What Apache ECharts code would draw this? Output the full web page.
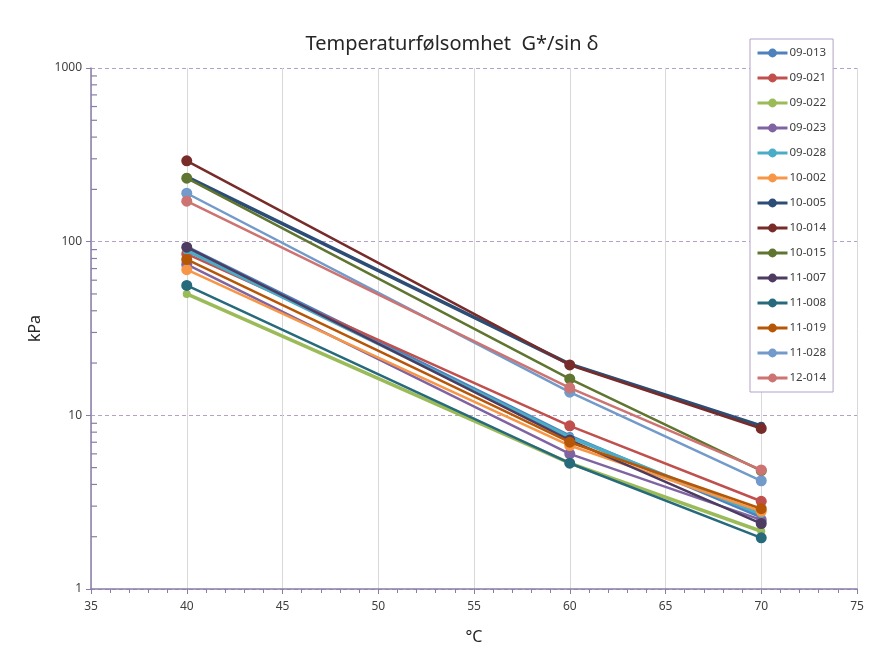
<!DOCTYPE html>
<html>
<head>
<meta charset="utf-8">
<script src="https://cdn.jsdelivr.net/npm/echarts@6/dist/echarts.min.js"></script>
<style>
  html, body { margin: 0; padding: 0; background: #ffffff; }
  #chart { width: 876px; height: 669px; }
</style>
</head>
<body>
<div id="chart"></div>
<script>
// Test temperatures (°C)
const temperatures = [40, 60, 70];

// Sample names
const sampleNames = ['09-013', '09-021', '09-022', '09-023', '09-028', '10-002', '10-005',
                     '10-014', '10-015', '11-007', '11-008', '11-019', '11-028', '12-014'];

// G*/sin δ in kPa at 40, 60 and 70 °C for each sample
const v09_013 = [93, 7.6, 2.6];
const v09_021 = [85, 8.7, 3.2];
const v09_022 = [50, 5.3, 2.15];
const v09_023 = [74, 6.0, 2.5];
const v09_028 = [89, 7.5, 2.7];
const v10_002 = [69, 6.7, 2.8];
const v10_005 = [236, 19.7, 8.7];
const v10_014 = [292, 19.5, 8.4];
const v10_015 = [232, 16.2, 4.8];
const v11_007 = [93, 7.2, 2.38];
const v11_008 = [56, 5.3, 1.97];
const v11_019 = [79, 7.0, 2.9];
const v11_028 = [190, 13.6, 4.2];
const v12_014 = [171, 14.4, 4.85];

const sampleValues = [v09_013, v09_021, v09_022, v09_023, v09_028, v10_002, v10_005,
                      v10_014, v10_015, v11_007, v11_008, v11_019, v11_028, v12_014];

// Decades of the kPa axis and the x-axis range
const decades = [1, 10, 100, 1000];
const xMin = 35, xMax = 75;

const colors = ['#4F81BD', '#C0504D', '#9BBB59', '#8064A2', '#4BACC6', '#F79646', '#2C4D75',
                '#772C2A', '#5F7530', '#4D3B62', '#276A7C', '#B65708', '#729ACA', '#CD7371'];
// thicker lines with small markers for a few samples
const thick = { '09-013': true, '09-022': true, '09-028': true, '10-005': true };

const series = sampleNames.map(function (name, i) {
  const isThick = !!thick[name];
  return {
    name: name,
    type: 'line',
    data: temperatures.map(function (t, j) { return [t, sampleValues[i][j]]; }),
    symbol: 'circle',
    symbolSize: isThick ? 8 : 11,
    showSymbol: true,
    lineStyle: { width: isThick ? 3.5 : 2.5, color: colors[i] },
    itemStyle: { color: colors[i] },
    emphasis: { disabled: true },
    animation: false,
    z: 3 + i
  };
});

const axisPurple = '#8A7CA8';

// Inner minor ticks of the log axis (2..9 within each decade), drawn as thin bars
const minorTickValues = [];
for (let d = 0; d < decades.length - 1; d++) {
  for (let m = 2; m <= 9; m++) minorTickValues.push([xMin, decades[d] * m]);
}
series.push({
  name: 'minor-ticks',
  type: 'scatter',
  data: minorTickValues,
  symbol: 'rect',
  symbolSize: [6, 1.2],
  symbolOffset: [3, 0],
  itemStyle: { color: axisPurple, opacity: 1 },
  silent: true,
  clip: false,
  animation: false,
  emphasis: { disabled: true },
  z: 20
});

const labelFont = { fontFamily: 'Noto Sans', fontSize: 12, color: '#404040' };

const chart = echarts.init(document.getElementById('chart'), null, { renderer: 'canvas' });
chart.setOption({
  backgroundColor: '#ffffff',
  animation: false,
  color: colors,
  title: {
    text: 'Temperaturfølsomhet  G*/sin δ',
    left: 447,
    textAlign: 'center',
    top: 29,
    textStyle: { fontFamily: 'Noto Sans', fontSize: 20, fontWeight: 'normal', color: '#262626' }
  },
  legend: {
    orient: 'vertical',
    left: 750,
    top: 39,
    padding: [8, 7, 8, 6],
    itemWidth: 30,
    itemHeight: 11,
    itemGap: 13,
    borderColor: '#B3A2C7',
    borderWidth: 1,
    backgroundColor: '#ffffff',
    lineStyle: { width: 3 },
    textStyle: { fontFamily: 'Noto Sans', fontSize: 11.5, color: '#404040', padding: [0, 0, 0, -3] },
    data: sampleNames
  },
  grid: { left: 91, top: 68, right: 19, bottom: 80 },
  xAxis: {
    type: 'value',
    min: xMin,
    max: xMax,
    interval: 5,
    name: '°C',
    nameLocation: 'middle',
    nameGap: 40,
    nameTextStyle: { fontFamily: 'Noto Sans', fontSize: 16, color: '#262626' },
    axisLine: { show: true, lineStyle: { color: axisPurple, width: 1.5 } },
    axisTick: { show: true, length: 5, lineStyle: { color: axisPurple } },
    minorTick: { show: true, splitNumber: 5, length: 4, lineStyle: { color: axisPurple } },
    axisLabel: Object.assign({ margin: 12 }, labelFont),
    splitLine: { show: true, lineStyle: { color: '#D9D9D9', width: 1 } }
  },
  yAxis: {
    type: 'log',
    logBase: 10,
    min: decades[0],
    max: decades[decades.length - 1],
    name: 'kPa',
    nameLocation: 'middle',
    nameGap: 33,
    nameTextStyle: { fontFamily: 'Noto Sans', fontSize: 16, color: '#262626' },
    axisLine: { show: true, lineStyle: { color: axisPurple, width: 1.5 } },
    axisTick: { show: true, length: 5, lineStyle: { color: axisPurple } },
    axisLabel: Object.assign({ margin: 9, formatter: function (v) { return String(v); } }, labelFont),
    splitLine: { show: true, lineStyle: { color: '#B3A2C7', type: [4, 3], width: 1 } }
  },
  series: series
});
</script>
</body>
</html>
